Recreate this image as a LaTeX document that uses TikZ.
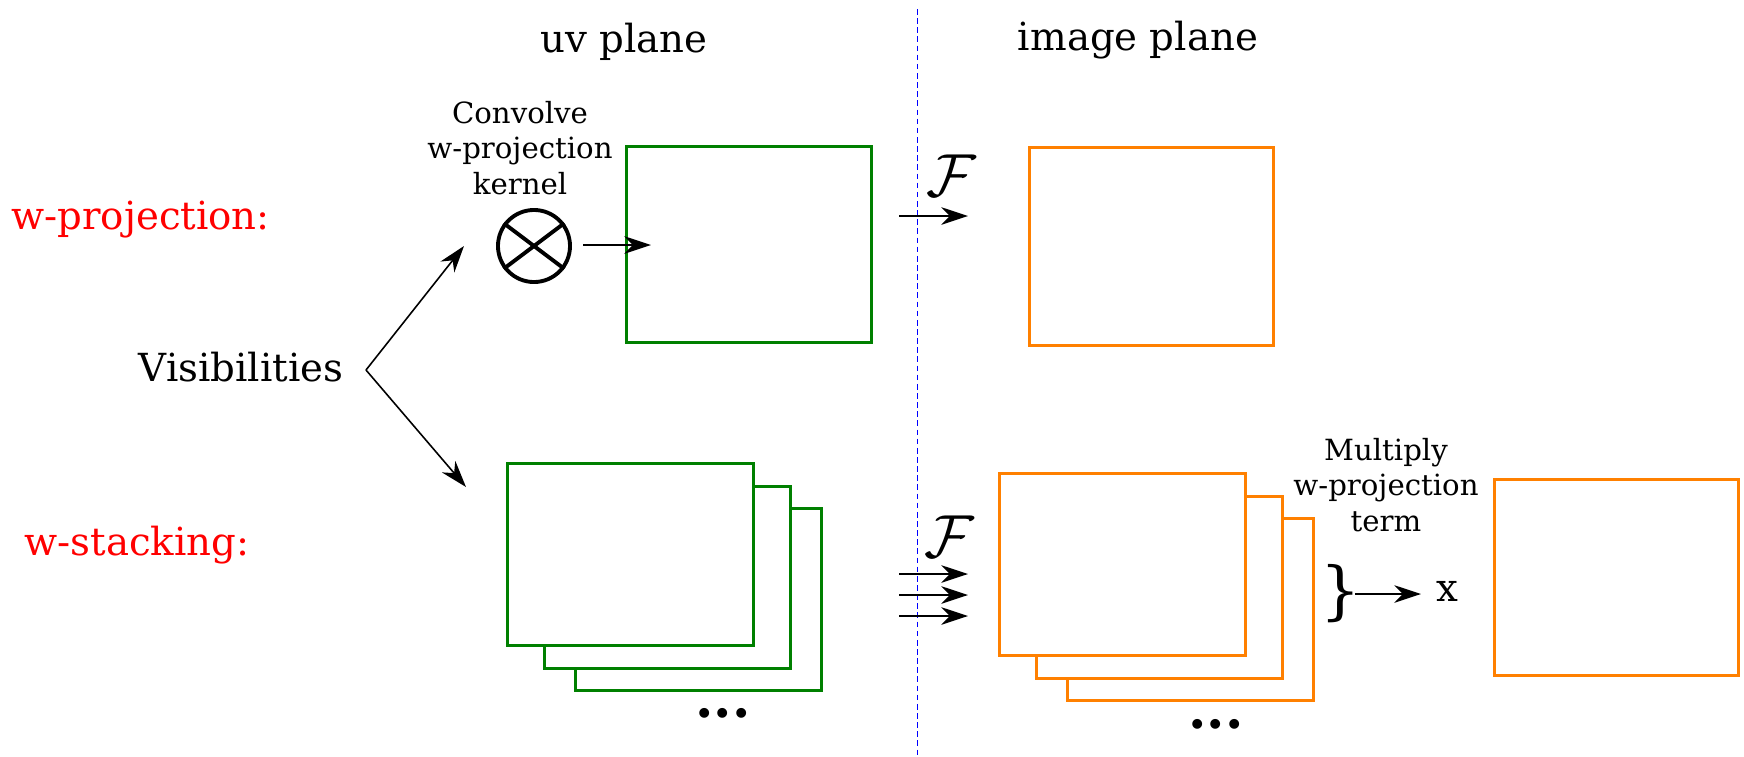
\documentclass[tikz,border=0pt]{standalone}
\usepackage{fontspec}
\setmainfont{DejaVu Serif}
\usetikzlibrary{arrows.meta}
\definecolor{uvgreen}{RGB}{0,128,0}
\definecolor{imorange}{RGB}{255,128,0}
\begin{document}
\begin{tikzpicture}[x=0.01cm,y=-0.01cm,
plane/.style={font=\fontsize{11}{13}\selectfont},
note/.style={font=\fontsize{8.3}{10.2}\selectfont,align=center},
grid/.style={draw=#1,line width=.85pt,fill=white,inner sep=0pt,anchor=north west,minimum width=2.46cm,minimum height=1.82cm},
fwd/.style={-{Stealth[length=7.6pt,width=5pt,inset=2.4pt]},line width=.45pt},
four/.style={font=\fontsize{17}{17}\selectfont}]
\useasboundingbox (0,0) rectangle (1744,757);
\node[plane] (uv) at (624,42) {uv plane};\node[plane] (img) at (1138,40) {image plane};
\coordinate (sep1) at (917.5,9);\coordinate (sep2) at (917.5,757);
\draw[blue,line width=.55pt,dash pattern=on 1.6pt off 1pt] (sep1)--(sep2);
\node[plane,red,anchor=west] (wp) at (-1,220) {w-projection:};
\node[plane,red,anchor=west] (ws) at (12,545) {w-stacking:};
\node[plane] (vis) at (241,367) {Visibilities};
\coordinate (v) at (366,370);\coordinate (vu) at (464,246);\coordinate (vd) at (466,487);
\draw[fwd] (v)--(vu);\draw[fwd] (v)--(vd);
\node[note] (conv) at (520,148) {Convolve\\w-projection\\kernel};
\node[circle,draw,line width=1.1pt,minimum size=.72cm,inner sep=0pt] (k) at (534,246) {};
\draw[line width=1.1pt] (k.143)--(k.-37) (k.37)--(k.217);
\node[grid=uvgreen,minimum width=2.45cm,minimum height=1.96cm] (g) at (625,145) {};
\coordinate (k1) at (583,245);\coordinate (k2) at (651,245);\draw[fwd] (k1)--(k2);
\node[grid=imorange,minimum width=2.44cm,minimum height=1.98cm] (o) at (1028,146) {};
\node[four] (F1) at (951,176) {$\mathcal{F}$};
\coordinate (fa) at (899,216);\coordinate (fb) at (968,216);\draw[fwd] (fa)--(fb);
\foreach \i/\dx/\dy in {3/68/45,2/37/23,1/0/0}{
\node[grid=uvgreen] (gs\i) at (506+\dx,462+\dy) {};
\node[grid=imorange] (os\i) at (998+\dx,472+\dy) {};}
\node[four,font=\fontsize{15}{15}\selectfont\bfseries,anchor=base] (dl) at (723,717) {...};
\node[four,font=\fontsize{15}{15}\selectfont\bfseries,anchor=base] (dr) at (1216,728) {...};
\node[four] (F2) at (949,537) {$\mathcal{F}$};
\foreach \y [count=\n] in {574,595,616}{\coordinate (ta\n) at (899,\y);\coordinate (tb\n) at (968,\y);\draw[fwd] (ta\n)--(tb\n);}
\node[note] (mul) at (1386,485) {Multiply\\w-projection\\term};
\node[font=\fontsize{18}{18}\selectfont] (br) at (1341,594) {\}};
\coordinate (m1) at (1355,594);\coordinate (m2) at (1421,594);\draw[fwd] (m1)--(m2);
\node[plane] (x) at (1447,591) {x};
\node[grid=imorange,minimum width=2.44cm,minimum height=1.96cm] (res) at (1493,478) {};
\end{tikzpicture}
\end{document}
